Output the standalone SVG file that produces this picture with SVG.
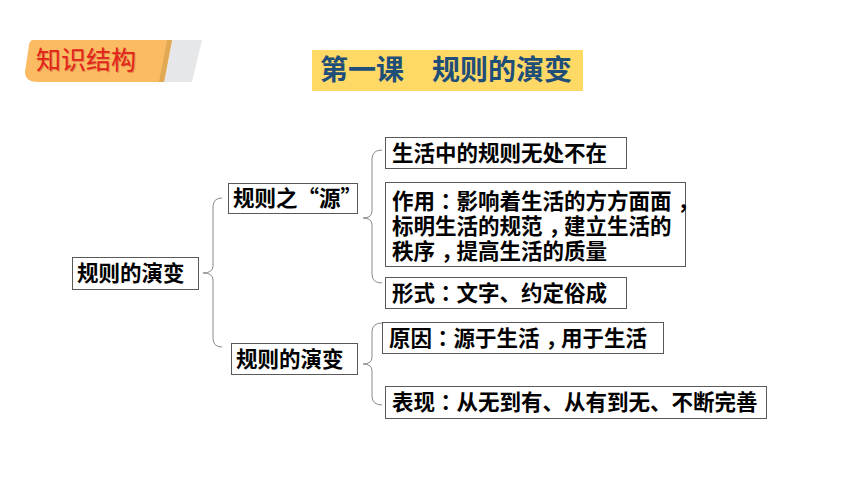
<svg xmlns="http://www.w3.org/2000/svg" width="860" height="484" viewBox="0 0 860 484">
<style>
.box{fill:#ffffff;stroke:#595959;stroke-width:1}
.t{font-family:"Noto Sans CJK SC","Noto Sans",sans-serif;font-weight:700;font-size:21.5px;fill:#000000}
.p{font-family:"Noto Sans CJK TC","Noto Sans CJK SC",sans-serif}
.brace{fill:none;stroke:#8c8c8c;stroke-width:1}
</style>
<rect width="860" height="484" fill="#ffffff"/>
<g id="badge">
<path d="M 164 82 L 172 40 L 202 40 L 192 82 Z" fill="#E6E7E9"/>
<path d="M 33 40 L 172 40 L 164 82 L 38 82 Q 25 82 25 72 L 29 45 Q 30 40 33 40 Z" fill="#FBBB62"/>
<path d="M 167 40 L 172 40 L 164 82 L 159 82 Z" fill="#E2A955"/>
<text x="36" y="69" font-family="'Noto Sans CJK SC',sans-serif" font-size="25" fill="#B01810" opacity="0.35" transform="translate(1,1)">知识结构</text>
<text x="36" y="69" font-family="'Noto Sans CJK SC',sans-serif" font-size="25" fill="#E2231A">知识结构</text>
</g>
<g id="title">
<rect x="312" y="50" width="271" height="41" fill="#FFD966"/>
<text x="320" y="80" font-family="'Noto Sans CJK SC',sans-serif" font-weight="700" font-size="28" fill="#1F4E79">第一课　规则的演变</text>
</g>
<g id="connectors">
<path class="brace" d="M 222 198 Q 213 198 213 207 L 213 266 Q 213 273 203 273 Q 213 273 213 280 L 213 338 Q 213 347 222 347"/>
<path class="brace" d="M 382 150 Q 372 150 372 159 L 372 211 Q 372 218 363 218 Q 372 218 372 225 L 372 274 Q 372 283 382 283"/>
<path class="brace" d="M 382 323 Q 372 323 372 332 L 372 357 Q 372 364 363 364 Q 372 364 372 371 L 372 396 Q 372 405 382 405"/>
</g>
<g id="root">
<rect class="box" x="72.5" y="257.5" width="126" height="32"/>
<text class="t" x="77" y="281">规则的演变</text>
</g>
<g id="source">
<rect class="box" x="228.5" y="183.5" width="129" height="30"/>
<text class="t" x="233" y="206">规则之“源”</text>
</g>
<g id="evolution">
<rect class="box" x="231.5" y="343.5" width="126" height="31"/>
<text class="t" x="236" y="367">规则的演变</text>
</g>
<g id="everywhere">
<rect class="box" x="385.5" y="137.5" width="241" height="31"/>
<text class="t" x="392" y="161">生活中的规则无处不在</text>
</g>
<g id="function">
<rect class="box" x="385.5" y="182.5" width="300" height="84"/>
<text class="t" x="392" y="209">作用<tspan class="p">：</tspan>影响着生活的方方面面<tspan dx="6">，</tspan></text>
<text class="t" x="392" y="234">标明生活的规范<tspan dx="6">，</tspan><tspan dx="-6">建立生活的</tspan></text>
<text class="t" x="392" y="259">秩序<tspan dx="6">，</tspan><tspan dx="-6">提高生活的质量</tspan></text>
</g>
<g id="form">
<rect class="box" x="385.5" y="277.5" width="241" height="31"/>
<text class="t" x="392" y="301">形式<tspan class="p">：</tspan>文字、约定俗成</text>
</g>
<g id="reason">
<rect class="box" x="382.5" y="322.5" width="281" height="31"/>
<text class="t" x="389" y="346">原因<tspan class="p">：</tspan>源于生活<tspan dx="6">，</tspan><tspan dx="-6">用于生活</tspan></text>
</g>
<g id="expression">
<rect class="box" x="385.5" y="386.5" width="381" height="32"/>
<text class="t" x="392" y="410">表现<tspan class="p">：</tspan>从无到有、从有到无、不断完善</text>
</g>
</svg>
